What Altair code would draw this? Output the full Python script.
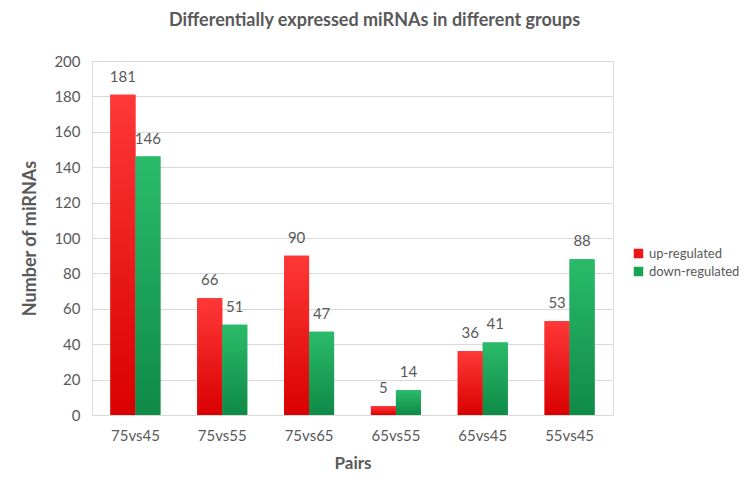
import altair as alt
import pandas as pd

pairs = ["75vs45", "75vs55", "75vs65", "65vs55", "65vs45", "55vs45"]
series = ["up-regulated", "down-regulated"]
up_values = [181, 66, 90, 5, 36, 53]
down_values = [146, 51, 47, 14, 41, 88]
y_ticks = [0, 20, 40, 60, 80, 100, 120, 140, 160, 180, 200]

rows = []
for p, u, d in zip(pairs, up_values, down_values):
    rows.append({"pair": p, "series": series[0], "value": u})
    rows.append({"pair": p, "series": series[1], "value": d})
df = pd.DataFrame(rows)

FONT = "Lato"
GRAY = "#595959"

red_grad = alt.Gradient(
    gradient="linear", x1=0, x2=0, y1=0, y2=1,
    stops=[alt.GradientStop(color="#ff3838", offset=0),
           alt.GradientStop(color="#d90000", offset=1)],
)
green_grad = alt.Gradient(
    gradient="linear", x1=0, x2=0, y1=0, y2=1,
    stops=[alt.GradientStop(color="#2abb6a", offset=0),
           alt.GradientStop(color="#0f8a47", offset=1)],
)

base = alt.Chart(df).encode(
    x=alt.X(
        "pair:N", sort=pairs, title="Pairs",
        scale=alt.Scale(paddingInner=0.424, paddingOuter=0.212),
        axis=alt.Axis(labelAngle=0, labelFontSize=15, labelColor=GRAY, labelFont=FONT,
                      labelPadding=13, titleFontSize=17, titleFont=FONT, titleColor=GRAY,
                      titleFontWeight="bold", titlePadding=12, ticks=False, grid=False,
                      domainColor="#d9d9d9", domainWidth=1),
    ),
    xOffset=alt.XOffset("series:N", sort=series, scale=alt.Scale(paddingInner=0, paddingOuter=0)),
    y=alt.Y(
        "value:Q", title="Number of miRNAs",
        scale=alt.Scale(domain=[0, 200], nice=False),
        axis=alt.Axis(values=y_ticks, labelFontSize=15, labelColor=GRAY, labelFont=FONT,
                      labelPadding=12, ticks=False, domain=False, gridColor="#d9d9d9",
                      titleFontSize=18, titleFont=FONT, titleColor=GRAY,
                      titleFontWeight="bold", titlePadding=14),
    ),
)

legend_bars = base.mark_bar().encode(
    color=alt.Color(
        "series:N", sort=series,
        scale=alt.Scale(domain=series, range=["#f01414", "#18a455"]),
        legend=alt.Legend(title=None, orient="none", legendX=540, legendY=186,
                          symbolType="square", symbolSize=90, symbolStrokeWidth=0,
                          labelFontSize=13, labelColor=GRAY, labelFont=FONT,
                          rowPadding=4, symbolOffset=0),
    )
)

up_bars = base.transform_filter(alt.datum.series == series[0]).mark_bar(color=red_grad)
down_bars = base.transform_filter(alt.datum.series == series[1]).mark_bar(color=green_grad)

labels = base.mark_text(
    baseline="middle", dy=-18, fontSize=15, color=GRAY, font=FONT
).encode(text="value:Q")

chart = alt.layer(legend_bars, up_bars, down_bars, labels).properties(
    width=521, height=354,
    autosize=alt.AutoSizeParams(type="none"),
    padding={"left": 84, "top": 53, "right": 128, "bottom": 77},
    title=alt.TitleParams(
        "Differentially expressed miRNAs in different groups",
        fontSize=18, font=FONT, fontWeight="bold", color=GRAY, offset=24, dx=22,
    ),
).configure_view(strokeWidth=0, strokeOpacity=0).configure(background="white")

chart.save("out.html", embed_options={"renderer": "svg", "actions": False})
